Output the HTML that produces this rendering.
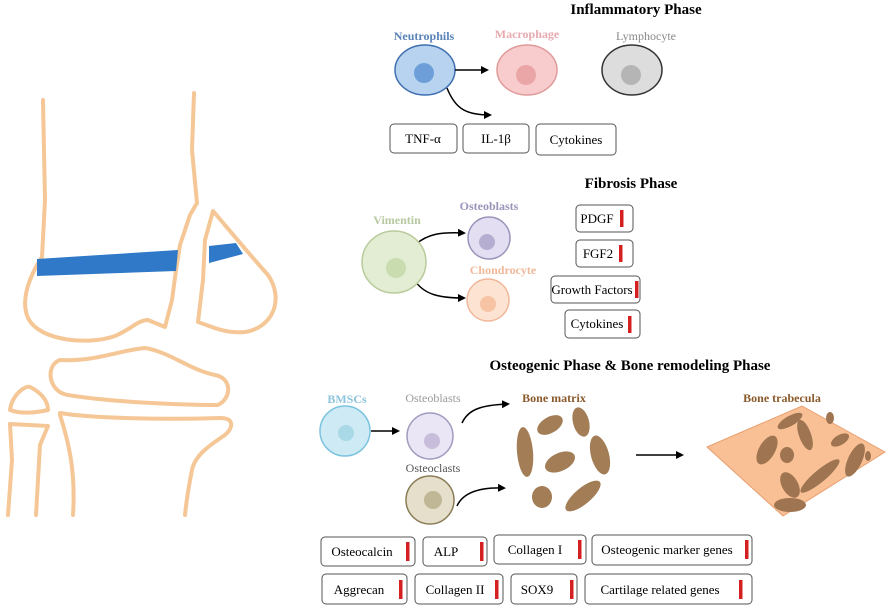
<!DOCTYPE html>
<html><head><meta charset="utf-8"><style>
html,body{margin:0;padding:0;background:#fff;width:892px;height:609px;overflow:hidden}
text{font-family:"Liberation Serif",serif}
</style></head><body>
<svg width="892" height="609" viewBox="0 0 892 609" xmlns="http://www.w3.org/2000/svg">
<defs>
<marker id="ah" markerWidth="8" markerHeight="8" refX="6" refY="4" orient="auto" markerUnits="userSpaceOnUse"><path d="M0,0 L8,4 L0,8 Z" fill="#000"/></marker>
</defs>
<g fill="none" stroke="#f5c796" stroke-width="4" stroke-linecap="round" stroke-linejoin="round">
<path d="M43,100 L45,200 L42,257 C30,275 20,300 28,318 C40,342 90,345 115,336 C130,330 138,320 148,320 L165,327 L172,300 L176,270 L180,245 L190,215 L197,203 L192,150 L194,93"/>
<path d="M213,211 C225,225 250,255 268,275 C285,300 272,328 245,332 C225,334 210,326 198,322 L203,280 L205,240 Z"/>
<path d="M60,360 C95,362 120,350 145,348 C170,352 190,370 215,375 C232,378 232,398 218,405 C180,405 110,402 68,395 C48,392 45,365 60,360 Z"/>
<path d="M60,413 C90,418 160,420 220,418 C235,418 233,428 225,435 C210,445 195,455 192,470 C188,490 186,505 185,515"/>
<path d="M60,415 C68,440 76,470 73,515"/>
<path d="M10,410 C12,395 25,385 30,387 C40,392 48,400 48,410 C35,413 20,414 10,410 Z"/>
<path d="M10,424 L48,426 L40,445 L36,515"/>
<path d="M10,424 L12,460 L8,515"/>
</g>
<path d="M37,259 L178,250 L176,271 L37,276 Z" fill="#2f79c8"/>
<path d="M209,246 L236,243 L243,254 L209,263 Z" fill="#2f79c8"/>
<g font-weight="bold" fill="#000" font-size="15" text-anchor="middle">
<text x="636" y="14">Inflammatory Phase</text>
<text x="631" y="188">Fibrosis Phase</text>
<text x="630" y="370">Osteogenic Phase &amp; Bone remodeling Phase</text>
</g>
<g font-size="12" text-anchor="middle" font-weight="bold">
<text x="424" y="40" fill="#5a84b8">Neutrophils</text>
<text x="527" y="38" fill="#e8aab0">Macrophage</text>
<text x="646" y="40" fill="#888" font-weight="normal">Lymphocyte</text>
</g>
<ellipse cx="425" cy="70" rx="30" ry="25" fill="#b8d3f0" stroke="#3e6fb0" stroke-width="1.5"/>
<circle cx="424" cy="73" r="10" fill="#6d9ed8"/>
<ellipse cx="527" cy="70" rx="30" ry="25" fill="#f8cccc" stroke="#e09a9a" stroke-width="1.5"/>
<circle cx="526" cy="75" r="10" fill="#eaa6a6"/>
<ellipse cx="632" cy="70" rx="30" ry="25" fill="#ddd" stroke="#333" stroke-width="1.5"/>
<circle cx="631" cy="75" r="10" fill="#b5b5b5"/>
<g fill="none" stroke="#000" stroke-width="1.5" marker-end="url(#ah)">
<path d="M455,70 L487,70"/>
<path d="M447,88 C455,108 465,115 490,115"/>
<path d="M416,244 C428,234 440,232 464,233"/>
<path d="M415,281 C425,295 440,298 464,298"/>
<path d="M371,431 L398,431"/>
<path d="M462,423 C468,410 480,405 508,404"/>
<path d="M457,506 C462,495 475,487 504,488"/>
<path d="M636,455 L682,455"/>
</g>
<g fill="#fff" stroke="#555" stroke-width="1">
<rect x="390" y="124" width="67" height="29" rx="4"/>
<rect x="463" y="124" width="66" height="29" rx="4"/>
<rect x="536" y="124" width="80" height="31" rx="4"/>
<rect x="576" y="205" width="57" height="27" rx="4"/>
<rect x="576" y="240" width="57" height="27" rx="4"/>
<rect x="551" y="276" width="89" height="27" rx="4"/>
<rect x="565" y="310" width="75" height="28" rx="4"/>
<rect x="321" y="537" width="94" height="29" rx="4"/>
<rect x="423" y="537" width="64" height="29" rx="4"/>
<rect x="494" y="535" width="92" height="29" rx="4"/>
<rect x="592" y="535" width="160" height="30" rx="4"/>
<rect x="322" y="574" width="85" height="30" rx="4"/>
<rect x="415" y="574" width="88" height="30" rx="4"/>
<rect x="511" y="574" width="66" height="30" rx="4"/>
<rect x="585" y="574" width="167" height="30" rx="4"/>
</g>
<g font-size="13" fill="#000" text-anchor="middle">
<text x="423" y="143">TNF-α</text>
<text x="496" y="143">IL-1β</text>
<text x="576" y="144">Cytokines</text>
<text x="597" y="223">PDGF</text>
<text x="598" y="258">FGF2</text>
<text x="592" y="294">Growth Factors</text>
<text x="597" y="328">Cytokines</text>
<text x="362" y="556">Osteocalcin</text>
<text x="446" y="556">ALP</text>
<text x="535" y="554">Collagen I</text>
<text x="667" y="554">Osteogenic marker genes</text>
<text x="359" y="594">Aggrecan</text>
<text x="455" y="594">Collagen II</text>
<text x="537" y="594">SOX9</text>
<text x="660" y="594">Cartilage related genes</text>
</g>
<g fill="#d42020">
<rect x="620" y="210" width="3.5" height="17"/>
<rect x="619" y="245" width="3.5" height="17"/>
<rect x="635" y="281" width="3.5" height="17"/>
<rect x="628" y="316" width="3.5" height="17"/>
<rect x="406" y="542" width="3.5" height="19"/>
<rect x="480" y="542" width="3.5" height="19"/>
<rect x="578" y="540" width="3.5" height="19"/>
<rect x="745" y="540" width="3.5" height="19"/>
<rect x="399" y="580" width="3.5" height="19"/>
<rect x="495" y="580" width="3.5" height="19"/>
<rect x="570" y="580" width="3.5" height="19"/>
<rect x="739" y="580" width="3.5" height="19"/>
</g>
<g font-size="12" text-anchor="middle" font-weight="bold">
<text x="397" y="224" fill="#b7c9a0">Vimentin</text>
<text x="489" y="210" fill="#9a94bb">Osteoblasts</text>
<text x="503" y="274" fill="#f0b89a">Chondrocyte</text>
</g>
<ellipse cx="394" cy="262" rx="32" ry="31" fill="#e3edd3" stroke="#b9cb9c" stroke-width="1.5"/>
<circle cx="396" cy="268" r="10" fill="#c8dcb0"/>
<circle cx="489" cy="238" r="21" fill="#e3def2" stroke="#9a94bb" stroke-width="1.5"/>
<circle cx="487" cy="242" r="8" fill="#b6aed0"/>
<circle cx="488" cy="300" r="21" fill="#fde3d2" stroke="#f0b89a" stroke-width="1.5"/>
<circle cx="488" cy="304" r="8" fill="#f6c3a4"/>
<g font-size="12" text-anchor="middle">
<text x="347" y="403" fill="#8cc4dc" font-weight="bold">BMSCs</text>
<text x="433" y="402" fill="#999">Osteoblasts</text>
<text x="433" y="472" fill="#555">Osteoclasts</text>
<text x="554" y="402" fill="#8b5a2b" font-weight="bold">Bone matrix</text>
<text x="782" y="402" fill="#8b5a2b" font-weight="bold">Bone trabecula</text>
</g>
<circle cx="345" cy="431" r="25" fill="#cdeaf5" stroke="#7bc3de" stroke-width="1.5"/>
<circle cx="346" cy="433" r="8" fill="#a9d8e6"/>
<circle cx="430" cy="436" r="23" fill="#ebe6f5" stroke="#a39cc0" stroke-width="1.5"/>
<circle cx="432" cy="441" r="8" fill="#c8bedc"/>
<circle cx="430" cy="500" r="24" fill="#e5dfcc" stroke="#8a7b55" stroke-width="1.5"/>
<circle cx="433" cy="500" r="9" fill="#c0b797"/>
<g fill="#a27d56">
<ellipse cx="525" cy="452" rx="8" ry="25" transform="rotate(-5 525 452)"/>
<ellipse cx="550" cy="425" rx="14" ry="8" transform="rotate(-30 550 425)"/>
<ellipse cx="581" cy="422" rx="8" ry="15" transform="rotate(-15 581 422)"/>
<ellipse cx="600" cy="455" rx="9" ry="20" transform="rotate(-15 600 455)"/>
<ellipse cx="560" cy="462" rx="16" ry="9" transform="rotate(-25 560 462)"/>
<ellipse cx="542" cy="497" rx="10" ry="11"/>
<ellipse cx="583" cy="496" rx="22" ry="8" transform="rotate(-40 583 496)"/>
</g>
<path d="M707,447 L802,406 L885,452 L783,516 Z" fill="#f9bf95" stroke="#e8a070" stroke-width="1"/>
<g fill="#9e7550">
<ellipse cx="767" cy="450" rx="8" ry="16" transform="rotate(30 767 450)"/>
<ellipse cx="790" cy="421" rx="14" ry="5" transform="rotate(-30 790 421)"/>
<ellipse cx="805" cy="435" rx="6" ry="16" transform="rotate(-20 805 435)"/>
<ellipse cx="787" cy="455" rx="7" ry="8"/>
<ellipse cx="820" cy="476" rx="6" ry="25" transform="rotate(50 820 476)"/>
<ellipse cx="855" cy="460" rx="7" ry="18" transform="rotate(25 855 460)"/>
<ellipse cx="790" cy="485" rx="8" ry="14" transform="rotate(-30 790 485)"/>
<ellipse cx="790" cy="505" rx="16" ry="7"/>
<ellipse cx="868" cy="456" rx="3" ry="5"/>
<ellipse cx="830" cy="418" rx="4" ry="6"/>
<ellipse cx="840" cy="440" rx="10" ry="5" transform="rotate(-30 840 440)"/>
</g>
</svg>
</body></html>
